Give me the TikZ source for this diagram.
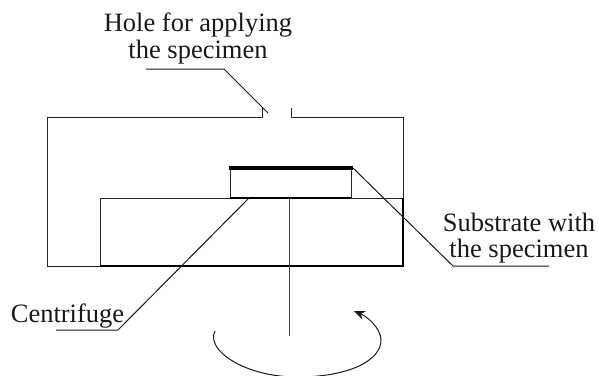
\documentclass[tikz,border=0pt]{standalone}
\usepackage{fontspec}
\setmainfont{Liberation Serif}
\usetikzlibrary{arrows.meta}
\tikzset{
  wire/.style={draw=black!85,line width=0.95pt},
  leader/.style={draw=black!90,line width=1pt},
  heavy/.style={draw=black,line width=1.6pt},
  plate/.style={draw=black,line width=4.4pt},
  lab/.style={font=\fontsize{26.5}{26.5}\selectfont,align=center,inner sep=0pt,text=black!90}
}
\begin{document}
\begin{tikzpicture}[x=1pt,y=-1pt]
\useasboundingbox (0,0) rectangle (599,375);
\begin{scope}
\clip (0,0) rectangle (599,375);
\coordinate (hl) at (262,108);
\coordinate (hr) at (291,108);
\coordinate (tl) at (47,117);
\coordinate (tr) at (403,117);
\coordinate (bl) at (47,266);
\coordinate (br) at (403,266);
\draw[wire] (hl) -- (262,117) -- (tl) -- (bl) -- (100,266);
\draw[wire] (hr) -- (291,117) -- (tr) -- (403,198);
\draw[wire] (100,266) -- (100,198) -- (230,198);
\draw[wire] (351,198) -- (403,198);
\draw[heavy] (100,266) -- (br) -- (403,198);
\draw[wire] (230,198) rectangle (351,168);
\draw[heavy] (230,198) -- (351,198);
\draw[plate] (229,168) -- (353,168);
\draw[wire,draw=black!75] (289,198) -- (289,336);
\draw[leader] (146,69) -- (224,69) -- (268,113);
\draw[leader] (56,330) -- (118,330) -- (249,198);
\draw[leader] (353,168) -- (453,266) -- (549,266);
\draw[leader,-{Stealth[length=11pt,width=9pt]}]
  (215,331) .. controls (205,350) and (245,377) .. (297,377)
  .. controls (350,377) and (382,360) .. (381,339)
  .. controls (380,328) and (368,317) .. (354,311);
\end{scope}
\node[lab] (hole) at (198,38.5) {Hole for applying\\the specimen};
\node[lab] (cent) at (67.5,316) {Centrifuge};
\node[lab] (sub) at (519,238) {Substrate with\\the specimen};
\end{tikzpicture}
\end{document}
